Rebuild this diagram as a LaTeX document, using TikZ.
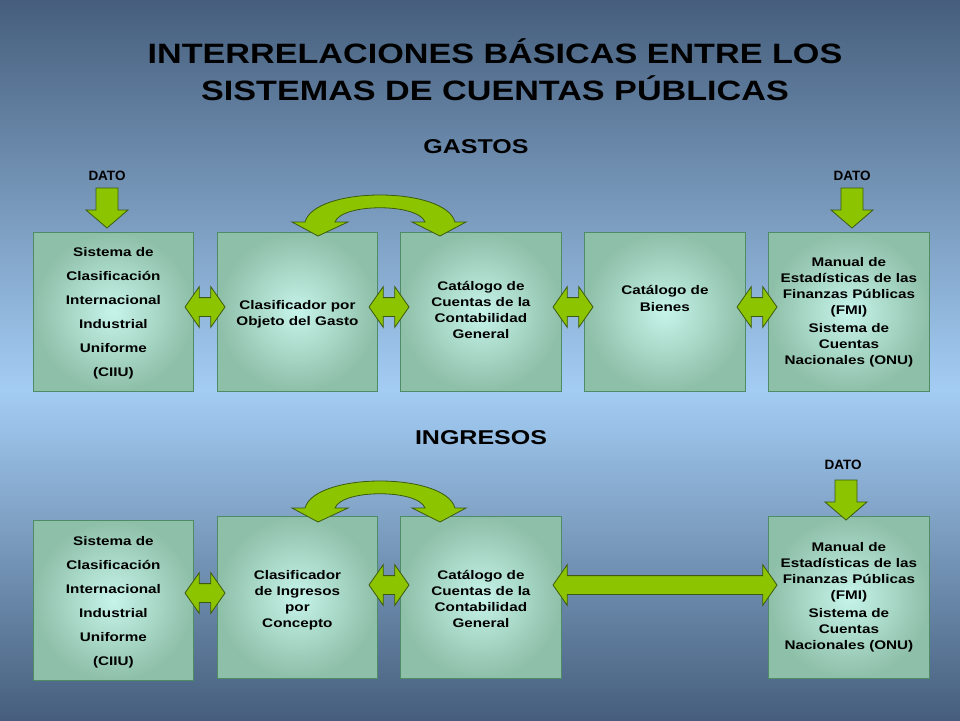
\documentclass[tikz,border=0pt]{standalone}
\usepackage{fontspec}
\usepackage{graphicx}
\setmainfont{Liberation Sans}
\usetikzlibrary{shapes.arrows}
\definecolor{bgdark}{HTML}{465E7C}
\definecolor{bglight}{HTML}{A4CDF4}
\definecolor{boxin}{HTML}{C6F4EA}
\definecolor{boxout}{HTML}{8EBFA8}
\definecolor{boxline}{HTML}{4E8C66}
\definecolor{arrfill}{HTML}{8CC400}
\definecolor{arrline}{HTML}{3C5A10}
\newcommand\sxt[1]{\scalebox{1.22}[1]{\begin{tabular}{@{}c@{}}#1\end{tabular}}}
\tikzset{
 box/.style={draw=boxline,line width=0.8pt,inner color=boxin,outer color=boxout,anchor=north west,inner sep=2pt},
 bt/.style={font=\bfseries\fontsize{12.5}{#1}\selectfont,align=center,inner sep=0pt},
 dbl/.style={double arrow,draw=arrline,fill=arrfill,line width=0.8pt,inner xsep=0pt,inner ysep=9pt,minimum height=#1,double arrow head extend=11pt,double arrow tip angle=110},
 curv/.style={draw=arrline,fill=arrfill,line width=0.8pt},
 lbl/.style={font=\bfseries\fontsize{13.5}{16}\selectfont},
 hd/.style={font=\bfseries\fontsize{20}{24}\selectfont}
}
\begin{document}
\begin{tikzpicture}[x=1pt,y=-1pt]
\useasboundingbox (0,0) rectangle (960,720);
\shade[top color=bgdark,bottom color=bglight] (0,0) rectangle (960,390);
\shade[top color=bglight,bottom color=bgdark] (0,390) rectangle (960,720);
\node[font=\bfseries\fontsize{28}{37}\selectfont,align=center] (title) at (495,75) {\sxt{INTERRELACIONES BÁSICAS ENTRE LOS\\SISTEMAS DE CUENTAS PÚBLICAS}};
\node[hd] (gastos) at (476,147) {\scalebox{1.25}[1]{GASTOS}};
\node[hd] (ingresos) at (481,438) {\scalebox{1.25}[1]{INGRESOS}};
% top row
\node[box,minimum width=160,minimum height=159] (a1) at (33,232) {};
\node[bt=24] at (a1.center) {\sxt{Sistema de\\Clasificación\\Internacional\\Industrial\\Uniforme\\(CIIU)}};
\node[box,minimum width=160,minimum height=159] (a2) at (217,232) {};
\node[bt=16] at ([yshift=-2]a2.center) {\sxt{Clasificador por\\Objeto del Gasto}};
\node[box,minimum width=161,minimum height=159] (a3) at (400,232) {};
\node[bt=16] at ([yshift=1]a3.center) {\sxt{Catálogo de\\Cuentas de la\\Contabilidad\\General}};
\node[box,minimum width=161,minimum height=159] (a4) at (584,232) {};
\node[bt=17] at ([yshift=12]a4.center) {\sxt{Catálogo de\\Bienes}};
\node[box,minimum width=161,minimum height=159] (a5) at (768,232) {};
\node[bt=16] at (a5.center) {\sxt{Manual de\\Estadísticas de las\\Finanzas Públicas\\(FMI)\\[2pt]Sistema de\\Cuentas\\Nacionales (ONU)}};
% bottom row
\node[box,minimum width=160,minimum height=160] (b1) at (33,520) {};
\node[bt=24] at (b1.center) {\sxt{Sistema de\\Clasificación\\Internacional\\Industrial\\Uniforme\\(CIIU)}};
\node[box,minimum width=160,minimum height=162] (b2) at (217,516) {};
\node[bt=16] at ([yshift=-3]b2.center) {\sxt{Clasificador\\de Ingresos\\por\\Concepto}};
\node[box,minimum width=161,minimum height=162] (b3) at (400,516) {};
\node[bt=16] at ([yshift=-3]b3.center) {\sxt{Catálogo de\\Cuentas de la\\Contabilidad\\General}};
\node[box,minimum width=161,minimum height=162] (b5) at (768,516) {};
\node[bt=16] at (b5.center) {\sxt{Manual de\\Estadísticas de las\\Finanzas Públicas\\(FMI)\\[2pt]Sistema de\\Cuentas\\Nacionales (ONU)}};
% horizontal double arrows
\node[dbl=40pt] (d1) at (205,307) {};
\node[dbl=40pt] (d2) at (389,307) {};
\node[dbl=40pt] (d3) at (573,307) {};
\node[dbl=40pt] (d4) at (757,307) {};
\node[dbl=40pt] (e1) at (205,593) {};
\node[dbl=40pt] (e2) at (389,585) {};
\node[dbl=224pt] (e3) at (665,585) {};
% DATO
\node[lbl] (dato1) at (107,176) {DATO};
\node[lbl] (dato2) at (852,176) {DATO};
\node[lbl] (dato3) at (843,465) {DATO};
\foreach \cx/\ty in {107/188,852/188,846/480}{
\draw[curv] (\cx-11,\ty) -- (\cx+11,\ty) -- (\cx+11,\ty+22) -- (\cx+21,\ty+22) -- (\cx,\ty+40) -- (\cx-21,\ty+22) -- (\cx-11,\ty+22) -- cycle;}
% curved arrows
\foreach \yy in {0,286}{
\draw[curv] (292,222+\yy) -- (318,236+\yy) -- (348,222+\yy) -- (335,222+\yy)
 .. controls (342,203+\yy) and (418,203+\yy) .. (425,222+\yy) -- (412,222+\yy) -- (440,236+\yy) -- (466,222+\yy) -- (455,222+\yy)
 .. controls (445,186+\yy) and (315,186+\yy) .. (305,222+\yy) -- cycle;}
\end{tikzpicture}
\end{document}
